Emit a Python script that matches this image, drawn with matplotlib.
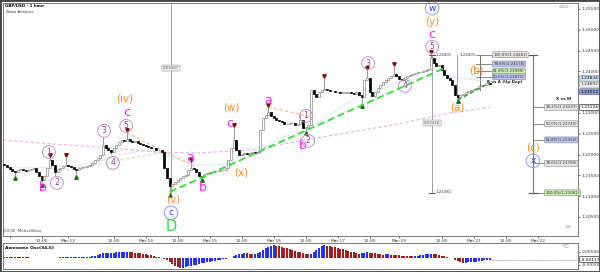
import matplotlib
matplotlib.use("Agg")
import matplotlib.pyplot as plt
from matplotlib.patches import Rectangle

# hourly closes GBP/USD
first_open = 1.2177
closes = [
    1.2175, 1.2170, 1.2166, 1.2161, 1.2158, 1.2163, 1.2166, 1.2163, 1.2161, 1.2163, 1.2166, 1.2168,
    1.2158, 1.2149, 1.2139, 1.2149, 1.2168, 1.2187, 1.2175, 1.2158, 1.2166, 1.2168, 1.2173, 1.2175,
    1.2173, 1.2170, 1.2166, 1.2163, 1.2168, 1.2170, 1.2170, 1.2173, 1.2175, 1.2180, 1.2187, 1.2192,
    1.2199, 1.2223, 1.2216, 1.2211, 1.2206, 1.2216, 1.2223, 1.2230, 1.2235, 1.2233, 1.2238, 1.2233,
    1.2230, 1.2233, 1.2228, 1.2226, 1.2223, 1.2221, 1.2218, 1.2216, 1.2216, 1.2211, 1.2211, 1.2206,
    1.2168, 1.2144, 1.2125, 1.2130, 1.2134, 1.2139, 1.2144, 1.2149, 1.2151, 1.2163, 1.2168, 1.2166,
    1.2158, 1.2149, 1.2146, 1.2154, 1.2156, 1.2158, 1.2158, 1.2161, 1.2161, 1.2163, 1.2163, 1.2168,
    1.2187, 1.2216, 1.2235, 1.2211, 1.2199, 1.2201, 1.2204, 1.2201, 1.2204, 1.2206, 1.2204, 1.2206,
    1.2259, 1.2288, 1.2295, 1.2302, 1.2293, 1.2288, 1.2283, 1.2281, 1.2278, 1.2274, 1.2274, 1.2276,
    1.2276, 1.2271, 1.2274, 1.2283, 1.2264, 1.2266, 1.2271, 1.2356, 1.2346, 1.2339, 1.2351, 1.2356,
    1.2358, 1.2356, 1.2353, 1.2353, 1.2351, 1.2351, 1.2349, 1.2349, 1.2349, 1.2351, 1.2349, 1.2346,
    1.2351, 1.2343, 1.2339, 1.2379, 1.2384, 1.2351, 1.2341, 1.2351, 1.2360, 1.2367, 1.2375, 1.2379,
    1.2384, 1.2389, 1.2394, 1.2389, 1.2382, 1.2379, 1.2384, 1.2389, 1.2391, 1.2394, 1.2396, 1.2399,
    1.2399, 1.2401, 1.2403, 1.2406, 1.2432, 1.2420, 1.2413, 1.2415, 1.2403, 1.2391, 1.2384, 1.2379,
    1.2367, 1.2343, 1.2339, 1.2343, 1.2346, 1.2351, 1.2353, 1.2355, 1.2358, 1.2360, 1.2365, 1.2367,
    1.2367, 1.2372, 1.2369,
]
hi_bars = [17, 23, 37, 46, 70, 86, 99, 111, 120, 136, 146, 160]
hi_vals = [1.2194, 1.2192, 1.2242, 1.2252, 1.2180, 1.2266, 1.2314, 1.2295, 1.2382, 1.2401, 1.2411, 1.24401]
lo_bars = [4, 14, 19, 27, 40, 62, 74, 113, 134, 170]
lo_vals = [1.2149, 1.2134, 1.2151, 1.2151, 1.2201, 1.21081, 1.2144, 1.2257, 1.2324, 1.23345]
mark_hi = [17, 23, 46, 70, 86, 99, 120, 136, 146, 160]
mark_lo = [4, 14, 27, 62, 74, 113, 134, 170]

# awesome oscillator (x 1e-3)
ao = [
    0.8, 0.9, 0.8, 0.7, 0.6, 0.6, 0.5, 0.5, 0.4, 0.4,
    0.3, 0.2, 0.1, 0.0, -0.1, 0.0, 0.2, 0.3, 0.3, 0.2, 0.3,
    0.4, 0.5, 0.5, 0.6, 0.6, 0.7, 0.7, 0.7, 0.8, 0.8, 0.9, 1.0, 1.3,
    1.8, 2.4, 3.0, 3.5, 3.8, 3.9,
    4.0, 4.2, 4.3, 4.5, 4.6, 4.7, 4.8, 4.7,
    4.5, 4.2, 3.9, 3.6, 3.2, 2.8, 2.4, 2.0, 1.5, 1.1, 0.7, 0.3,
    -0.4, -1.5, -3.0, -4.5, -6.0, -7.0, -7.6,
    -7.4, -7.0, -6.5, -6.0, -5.5, -5.0, -4.6, -4.2,
    -3.8, -3.4, -3.0, -2.6, -2.2, -1.8, -1.4, -1.0, -0.6, -0.2, 0.3,
    1.2, 2.0, 2.8, 3.4, 3.8,
    3.5, 3.2, 3.0, 3.1,
    4.0, 5.0, 6.2, 7.4, 8.4, 9.2, 9.8,
    9.4, 8.9, 8.4, 7.9, 7.4, 6.8, 6.2, 5.6, 5.0, 4.4,
    3.8, 3.3, 3.0, 3.4,
    4.8, 6.5, 8.0, 9.2, 10.0,
    9.6, 9.1, 8.6, 8.1, 7.6, 7.1, 6.6, 6.1, 5.6, 5.0, 4.4, 3.8, 3.4,
    3.6, 4.0, 4.4, 4.2, 3.9,
    3.5, 3.1, 2.8,
    2.6, 2.7, 2.8, 2.6, 2.4, 2.2, 2.0,
    1.8, 1.6, 1.4, 1.3, 1.2, 1.4, 1.7, 2.0, 2.4, 2.7, 3.0,
    3.3, 3.1, 2.8, 2.3, 1.8, 1.3, 0.8, 0.3, -0.3,
    -1.3, -2.3, -3.2, -3.8,
    -3.6, -3.4, -3.2, -3.0, -2.7, -2.4, -2.1, -1.8, -1.5, -1.2,
]

tick_pos = [2, 14, 24, 41, 53, 65, 77, 89, 101, 113, 125, 137, 148, 164, 176, 188, 200]
tick_lab = ["", "12:00", "Mar-12", "12:00", "Mar-14", "12:00", "Mar-15", "12:00", "Mar-16",
            "12:00", "Mar-17", "12:00", "Mar-19", "12:00", "Mar-21", "12:00", "Mar-22"]
price_ticks = [1.205, 1.210, 1.215, 1.220, 1.225, 1.230, 1.235, 1.240, 1.245, 1.250, 1.255]

# moving averages (read points)
ma_long_x = [-0.5, 17, 36, 58, 73, 92, 111, 130, 148, 167, 182]
ma_long_y = [1.2235, 1.2226, 1.2218, 1.2206, 1.2204, 1.2211, 1.2233, 1.2254, 1.2274, 1.2300, 1.2314]
ma_short_x = [-0.5, 13, 28, 36, 43, 51, 58, 66, 73, 81, 88, 96, 103, 111, 118, 126, 133, 141, 148, 156, 163, 171, 182]
ma_short_y = [1.2168, 1.2168, 1.2175, 1.2185, 1.2199, 1.2209, 1.2206, 1.2187, 1.2175, 1.2175, 1.2194,
              1.2211, 1.2240, 1.2254, 1.2278, 1.2314, 1.2339, 1.2355, 1.2375, 1.2384, 1.2394, 1.2384, 1.2375]

# trend lines
green_x = [62, 165]
green_y = [1.2110, 1.2408]
green2_x = [170, 182]
green2_y = [1.23313, 1.2372]
beige_x = [19, 60]
beige_y = [1.2158, 1.2206]
orange1_x = [46, 72]
orange1_y = [1.2252, 1.2170]
orange2_x = [99, 116]
orange2_y = [1.2314, 1.2290]

fib_ba_lev = [1.24401, 1.24178, 1.23999, 1.23873]
fib_ba_txt = ["100.0%(1.24401)", "78.6%(1.24178)", "61.8%(1.23999)", "50.0%(1.23873)"]
fib_ba_col = ["#e6e6e6", "#b9c2ee", "#c6f0b0", "#b9c2ee"]
fib_xw_lev = [1.23137, 1.22740, 1.22353, 1.21790, 1.21081]
fib_xw_txt = ["38.2%(1.23137)", "50.0%(1.22740)", "61.8%(1.22353)", "78.6%(1.21790)", "100.0%(1.21081)"]
fib_xw_col = ["#e6e6e6", "#e6e6e6", "#b9c2ee", "#e6e6e6", "#c6f0b0"]

# wave labels: text, bar, price
mag_labels = [("b", 14.5, 1.2120), ("c", 46, 1.2300), ("a", 69.6, 1.2192), ("b", 74.5, 1.2122),
              ("c", 84.6, 1.2274), ("a", 98.9, 1.2331), ("b", 112, 1.2223), ("c", 160.4, 1.2488)]
num_labels = [("1", 16.7, 1.2206), ("2", 19.7, 1.2132), ("3", 37.4, 1.2257), ("4", 40.7, 1.2180),
              ("5", 45.7, 1.2269), ("1", 113.1, 1.2293), ("2", 113.9, 1.2233), ("3", 136.4, 1.2420),
              ("4", 150.2, 1.2365), ("5", 160.4, 1.2459)]
orange_labels = [("(iv)", 45.2, 1.2336), ("(v)", 63.4, 1.2091), ("(w)", 85, 1.2312), ("(x)", 88.7, 1.2158),
                 ("(y)", 160.4, 1.2519), ("(a)", 169.7, 1.2314), ("(b)", 177.2, 1.2401), ("(c)", 198.2, 1.2216)]
blue_labels = [("c", 62.5, 1.2060), ("w", 160.4, 1.2552), ("x", 198.2, 1.2185)]

fig = plt.figure(figsize=(6.0, 2.72), dpi=100)
W, H = 600, 272
ax = fig.add_axes([3 / W, (H - 236) / H, 575 / W, 233 / H])
osc = fig.add_axes([3 / W, (H - 269) / H, 575 / W, 26 / H])

# candles
opens = [first_open] + closes[:-1]
for i, (o, c) in enumerate(zip(opens, closes)):
    hi = max(o, c)
    lo = min(o, c)
    if i in hi_bars:
        hi = max(hi, hi_vals[hi_bars.index(i)])
    if i in lo_bars:
        lo = min(lo, lo_vals[lo_bars.index(i)])
    ax.plot([i, i], [lo, hi], color="#707070", lw=0.5, zorder=3)
    if c >= o:
        ax.add_patch(Rectangle((i - 0.35, o), 0.7, max(c - o, 0.00004), fc="white", ec="#8a8a8a", lw=0.5, zorder=4))
    else:
        ax.add_patch(Rectangle((i - 0.35, c), 0.7, o - c, fc="black", ec="black", lw=0.5, zorder=4))

for b in mark_hi:
    ax.plot(b, hi_vals[hi_bars.index(b)] + 0.0006, marker="v", ms=2.5, color="#7a1010", zorder=5)
for b in mark_lo:
    ax.plot(b, lo_vals[lo_bars.index(b)] - 0.0006, marker="^", ms=2.5, color="#1e6b1e", zorder=5)

ax.plot(ma_long_x, ma_long_y, color="#e8b0e0", lw=0.8, ls=(0, (3, 2)), zorder=2)
ax.plot(ma_short_x, ma_short_y, color="#b8ccf4", lw=0.7, ls=(0, (1, 1)), zorder=2)
ax.plot(beige_x, beige_y, color="#d8d8a8", lw=0.8, ls=(0, (3, 2)), zorder=2)
ax.plot(orange1_x, orange1_y, color="#f5b890", lw=0.8, ls=(0, (3, 2)), zorder=2)
ax.plot(orange2_x, orange2_y, color="#f5b890", lw=0.8, ls=(0, (3, 2)), zorder=2)
ax.plot(green_x, green_y, color="#33dd33", lw=1.3, ls=(0, (4, 2)), zorder=6)
ax.plot(green2_x, green2_y, color="#2a9a2a", lw=1.0, ls=(0, (3, 2)), zorder=6)

# measurement lines
ax.plot([62.5, 62.5], [1.2570, 1.21081], color="#a0a0a0", lw=0.7, zorder=1)
ax.text(62.5, 1.2408, "0.03307", fontsize=2.8, ha="center", va="center", color="#555",
        bbox=dict(boxstyle="round,pad=0.25", fc="#eeeeee", ec="#999", lw=0.4), zorder=7)
ax.plot([160.4, 160.4], [1.24401, 1.21081], color="#a0a0a0", lw=0.7, zorder=1)
for yy in [1.24401, 1.21081]:
    ax.plot([159.2, 161.6], [yy, yy], color="#555", lw=0.7, zorder=1)
ax.text(160.4, 1.2276, "0.03320", fontsize=2.8, ha="center", va="center", color="#555",
        bbox=dict(boxstyle="round,pad=0.25", fc="#eeeeee", ec="#999", lw=0.4), zorder=7)
ax.text(161.8, 1.2440, "1.24401", fontsize=2.8, va="center", color="#333")
ax.text(161.8, 1.2110, "1.21081", fontsize=2.8, va="center", color="#333")
ax.plot([169.7, 169.7], [1.24401, 1.23345], color="#a0a0a0", lw=0.7, zorder=1)
ax.text(170.5, 1.2440, "1.24401", fontsize=2.8, va="center", color="#333")

# fib B vs A
ax.plot([178.2, 178.2], [1.24401, 1.2355], color="#777", lw=0.7, zorder=1)
for yy, t, fc in zip(fib_ba_lev, fib_ba_txt, fib_ba_col):
    ax.plot([176.8, 183], [yy, yy], color="#777", lw=0.6, zorder=1)
    ax.text(183.3, yy, t, fontsize=2.8, va="center", color="#333",
            bbox=dict(boxstyle="round,pad=0.25", fc=fc, ec="#888", lw=0.4), zorder=7)
ax.text(181, 1.2375, "B vs A (Up Dep)", fontsize=2.9, va="center", color="#222", fontweight="bold")

# fib X vs W
ax.plot([198.2, 198.2], [1.24401, 1.21081], color="#777", lw=0.8, zorder=1)
ax.plot([196.8, 199.6], [1.24401, 1.24401], color="#555", lw=0.8)
ax.plot([196.8, 199.6], [1.21081, 1.21081], color="#555", lw=0.8)
for yy, t, fc in zip(fib_xw_lev, fib_xw_txt, fib_xw_col):
    ax.plot([198.2, 202.6], [yy, yy], color="#777", lw=0.6, zorder=1)
    ax.text(202.9, yy, t, fontsize=2.8, va="center", color="#333",
            bbox=dict(boxstyle="round,pad=0.25", fc=fc, ec="#888", lw=0.4), zorder=7)
ax.text(212.5, 1.2333, "X vs W", fontsize=2.9, ha="right", va="center", color="#222", fontweight="bold")

# wave labels
for t, x, y in mag_labels:
    ax.text(x, y, t, fontsize=9, color="#ff22ff", ha="center", va="center", zorder=8)
for t, x, y in num_labels:
    ax.text(x, y, t, fontsize=5.5, color="#9a3a9a", ha="center", va="center", zorder=8,
            bbox=dict(boxstyle="circle,pad=0.25", fc="none", ec="#c890c8", lw=0.7))
for t, x, y in orange_labels:
    ax.text(x, y, t, fontsize=7.5, color="#ff8a2a", ha="center", va="center", zorder=8)
for t, x, y in blue_labels:
    ax.text(x, y, t, fontsize=6.5, color="#2040ff", ha="center", va="center", zorder=8,
            bbox=dict(boxstyle="circle,pad=0.25", fc="none", ec="#8898ff", lw=0.7))
ax.text(62.5, 1.2026, "D", fontsize=10.5, color="#33dd33", ha="center", va="center", zorder=8)

ax.text(0.003, 0.995, "GBP/USD - 1 hour", transform=ax.transAxes, fontsize=2.9, fontweight="bold", va="top")
ax.text(0.005, 0.968, "Wave Analysis", transform=ax.transAxes, fontsize=2.7, va="top", color="#333")
ax.text(0.002, 0.015, "00:00  MotiveWave", transform=ax.transAxes, fontsize=2.8, va="bottom", color="#444")
ax.text(0.985, 0.99, "\u2299\u2299\u2299", transform=ax.transAxes, fontsize=3.2, ha="right", va="top", color="#999")
ax.text(0.99, 0.03, "\u2299\u2299", transform=ax.transAxes, fontsize=3.2, ha="right", va="bottom", color="#999")

ax.set_xlim(-0.5, 215.1)
ax.set_ylim(1.20043, 1.25644)
ax.yaxis.tick_right()
ax.set_yticks(price_ticks)
ax.set_yticklabels(["%.5f" % p for p in price_ticks], fontsize=3.2, color="#333")
ax.set_xticks(tick_pos)
ax.set_xticklabels(tick_lab, fontsize=3.2, color="#333")
ax.tick_params(axis="both", length=1.5, width=0.4, pad=1)
for s in ax.spines.values():
    s.set_linewidth(0.6)
    s.set_color("#666")

# current value tags on price axis
tags = [(1.23834, "#c8e4f4", "#88a"), (1.23692, "white", "#888"), (1.23512, "#8e9ce0", "#556"),
        (1.23134, "white", "black")]
for yy, fc, ec in tags:
    ax.text(1.004, yy, "%.5f" % yy, transform=ax.get_yaxis_transform(), fontsize=3.2, va="center",
            bbox=dict(boxstyle="round,pad=0.2", fc=fc, ec=ec, lw=0.4), zorder=9, clip_on=False)

# oscillator
ao_v = [v * 1e-3 for v in ao]
cols = []
for i, v in enumerate(ao_v):
    prev = ao_v[i - 1] if i > 0 else v
    cols.append("#2233ff" if v >= prev else "#a02020")
osc.bar(range(len(ao_v)), ao_v, width=0.8, color=cols, lw=0)
osc.plot([len(ao_v) - 1, 215.1], [ao_v[-1], ao_v[-1]], color="#666", lw=0.5, ls=(0, (1, 1)))
osc.set_xlim(-0.5, 215.1)
osc.set_ylim(-0.00846, 0.01154)
osc.yaxis.tick_right()
osc.set_yticks([0.005, -0.005])
osc.set_yticklabels(["0.00500", "-0.00500"], fontsize=3.2, color="#333")
osc.set_xticks([])
osc.tick_params(axis="y", length=1.5, width=0.4, pad=1)
osc.text(0.003, 0.9, "Awesome Osc(34,5)", transform=osc.transAxes, fontsize=3.2, fontweight="bold", va="top")
osc.text(0.985, 0.95, "\u2299\u25a1", transform=osc.transAxes, fontsize=3.2, ha="right", va="top", color="#999")
osc.text(1.004, ao_v[-1], "-0.00117", transform=osc.get_yaxis_transform(), fontsize=3.2, va="center",
         bbox=dict(boxstyle="round,pad=0.2", fc="white", ec="black", lw=0.4), clip_on=False)
for s in osc.spines.values():
    s.set_linewidth(0.6)
    s.set_color("#666")

fig.patches.append(Rectangle((0, 0), 1, 1, transform=fig.transFigure, fill=False, ec="#444", lw=2))
fig.savefig("out.png", dpi=100)
